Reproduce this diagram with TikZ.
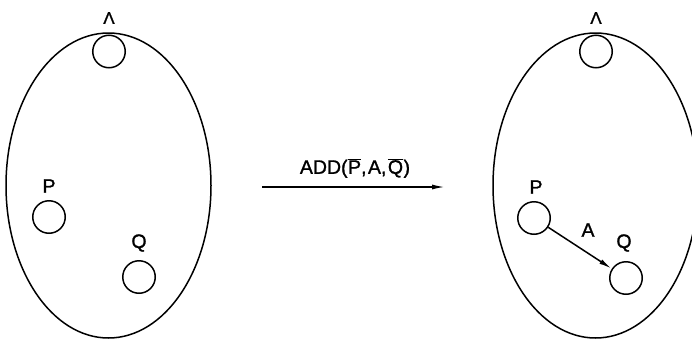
\documentclass[tikz,border=0pt]{standalone}
\usepackage{fontspec}
\setmainfont{Liberation Sans}
\newfontfamily\lblfont[FakeBold=1.2]{Liberation Sans}
\usetikzlibrary{arrows.meta}
\begin{document}
\begin{tikzpicture}[x=1pt,y=-1pt,
  line width=1.5pt,
  vtx/.style={draw,circle,minimum size=32.5pt,inner sep=0pt},
  lbl/.style={inner sep=0pt,font=\lblfont\fontsize{19.5}{19.5}\selectfont},
  lam/.style={inner sep=0pt,font=\lblfont\fontsize{17}{17}\selectfont},
  arr/.style={-{Latex[length=13pt,width=5pt]}}]
\useasboundingbox (0,0) rectangle (692,340);
% left graph
\draw (108.5,185.5) ellipse [x radius=102.5, y radius=152.5];
\node[vtx] (L1) at (109,51.5) {};
\node[lam] (L1l) at (109,18) {Λ};
\node[vtx] (P1) at (49,217) {};
\node[lbl] (P1l) at (49,186) {P};
\node[vtx] (Q1) at (139,277) {};
\node[lbl] (Q1l) at (139,243) {Q};
% transition arrow
\coordinate (s) at (262,187);
\coordinate (e) at (445,187);
\draw[arr] (s) -- (e);
\node[lbl] (op) at (355,168) {ADD(\kern0.5pt$\overline{\hbox{P}}$,\kern1.5pt A,\kern1.5pt$\overline{\hbox{Q}}$\kern0.5pt)};
% right graph
\draw (595.5,185.5) ellipse [x radius=102.5, y radius=152.5];
\node[vtx] (L2) at (596,51.5) {};
\node[lam] (L2l) at (596,18) {Λ};
\node[vtx] (P2) at (534,218) {};
\node[lbl] (P2l) at (536,187) {P};
\node[vtx] (Q2) at (626,278) {};
\node[lbl] (Q2l) at (624,243) {Q};
\draw[arr] (P2) -- (Q2);
\node[lbl] (A2) at (588,230) {A};
\end{tikzpicture}
\end{document}
